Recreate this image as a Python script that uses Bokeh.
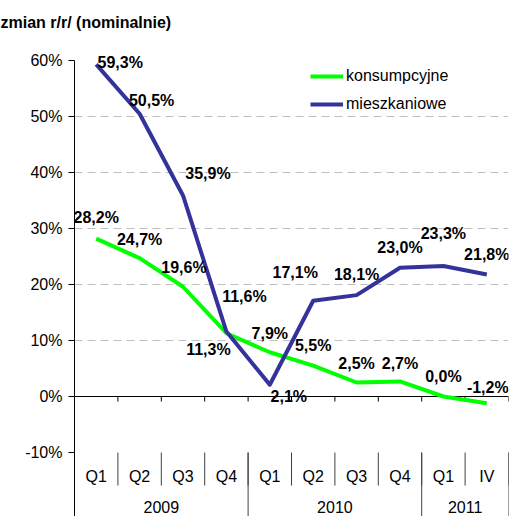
from bokeh.plotting import figure
from bokeh.models import (Range1d, FixedTicker, PrintfTickFormatter, ColumnDataSource,
                          LabelSet, Legend, LegendItem, Title)
from bokeh.core.properties import value
from bokeh.embed import file_html
from bokeh.resources import INLINE

# ---- data ----
quarters = ["Q1", "Q2", "Q3", "Q4", "Q1", "Q2", "Q3", "Q4", "Q1", "IV"]
years = ["2009", "2010", "2011"]
year_counts = [4, 4, 2]
konsumpcyjne = [28.2, 24.7, 19.6, 11.3, 7.9, 5.5, 2.5, 2.7, 0.0, -1.2]
mieszkaniowe = [59.3, 50.5, 35.9, 11.6, 2.1, 17.1, 18.1, 23.0, 23.3, 21.8]
y_ticks = [-10, 0, 10, 20, 30, 40, 50, 60]
grid_ticks = [10, 20, 30, 40, 50]
title_text = "zmian r/r/ (nominalnie)"

# label offsets in pixels (dx right, dy up)
kons_dx = [0, 0, 1, -18, 0, 0, 0, 0, 0, 1]
kons_dy = [21, 19, 19, -16, 19, 20, 19, 18, 20, 16]
mies_dx = [24, 12, 25, 18, 19, -18, 0, 0, 0, 0]
mies_dy = [2, 13, 22, 35, -12, 28, 21, 20, 33, 20]

FONT = "Liberation Sans"
GREEN = "#00ff00"
BLUE = "#333399"

n = len(quarters)
xs = list(range(1, n + 1))
PX = 5.6            # pixels per percent point
TOP_PAD = 22        # extra frame space above 60 % for labels
Y_TOP = 60 + TOP_PAD / PX
FRAME_TOP = 60 - TOP_PAD
Y_MIN = Y_TOP - (516 - FRAME_TOP) / PX

def fmt(v):
    return f"{v:.1f}".replace(".", ",") + "%"

p = figure(width=521, height=516, output_backend="svg", toolbar_location=None,
           x_range=Range1d(0.5, n + 0.5), y_range=Range1d(Y_MIN, Y_TOP),
           x_axis_location=None, min_border_left=74, min_border_right=13,
           min_border_top=FRAME_TOP, min_border_bottom=0)
p.outline_line_color = None
p.background_fill_color = "white"

# y axis
yax = p.yaxis[0]
yax.bounds = (Y_MIN, 60)
yax.ticker = FixedTicker(ticks=y_ticks)
yax.formatter = PrintfTickFormatter(format="%d%%")
yax.major_tick_out = 6
yax.major_tick_in = 0
yax.minor_tick_line_color = None
yax.axis_line_color = "black"
yax.major_tick_line_color = "black"
yax.major_label_standoff = 6
yax.major_label_text_font = FONT
yax.major_label_text_font_size = "16px"
yax.major_label_text_color = "black"

# grid
p.xgrid.visible = False
p.ygrid.ticker = FixedTicker(ticks=grid_ticks)
p.ygrid.grid_line_color = "#c0c0c0"
p.ygrid.grid_line_dash = "8 5"
p.ygrid.grid_line_width = 1

# zero axis line and its ticks
bounds = [i + 0.5 for i in range(0, n + 1)]
p.segment(x0=[0.5], y0=[0], x1=[n + 0.5], y1=[0], line_color="black", line_width=1)
p.segment(x0=bounds, y0=[0] * len(bounds), x1=bounds, y1=[-0.9] * len(bounds),
          line_color="black", line_width=1)

# category separators
p.segment(x0=bounds, y0=[-10] * len(bounds), x1=bounds, y1=[-15.9] * len(bounds),
          line_color="#404040", line_width=1)
year_bounds = [0.5]
acc = 0.5
for c in year_counts:
    acc += c
    year_bounds.append(acc)
p.segment(x0=year_bounds, y0=[-10] * len(year_bounds), x1=year_bounds,
          y1=[Y_MIN] * len(year_bounds), line_color="#404040", line_width=1)

# category labels
p.text(x=xs, y=[-14.3] * n, text=quarters, text_align="center", text_baseline="middle",
       text_font=value(FONT), text_font_size="16px", text_color="black")
year_centers = [(year_bounds[i] + year_bounds[i + 1]) / 2 for i in range(len(years))]
p.text(x=year_centers, y=[-19.8] * len(years), text=years, text_align="center",
       text_baseline="middle", text_font=value(FONT), text_font_size="16px", text_color="black")

# series
g = p.line(xs, konsumpcyjne, line_color=GREEN, line_width=4, line_join="round")
b = p.line(xs, mieszkaniowe, line_color=BLUE, line_width=4, line_join="round")

# data labels
for vals, dx, dy in ((konsumpcyjne, kons_dx, kons_dy), (mieszkaniowe, mies_dx, mies_dy)):
    src = ColumnDataSource(dict(x=xs, y=vals, t=[fmt(v) for v in vals], dx=dx, dy=dy))
    p.add_layout(LabelSet(x="x", y="y", text="t", source=src, x_offset="dx", y_offset="dy",
                          text_align="center", text_baseline="middle", text_font=value(FONT),
                          text_font_size="16px", text_font_style="bold", text_color="black"))

legend = Legend(items=[LegendItem(label="konsumpcyjne", renderers=[g]),
                       LegendItem(label="mieszkaniowe", renderers=[b])],
                location=(236, 402), orientation="vertical", border_line_color=None,
                background_fill_alpha=0, padding=0, margin=0, spacing=8,
                glyph_width=33, glyph_height=20, label_height=20, label_standoff=3,
                label_text_font=FONT, label_text_font_size="16px", label_text_color="black")
p.add_layout(legend)

p.add_layout(Title(text=title_text, align="left", offset=-74, text_font=FONT,
                   text_font_size="16px", text_font_style="bold", text_color="black",
                   standoff=12, vertical_align="top"), "above")

open("out.html", "w").write(file_html(p, INLINE))
